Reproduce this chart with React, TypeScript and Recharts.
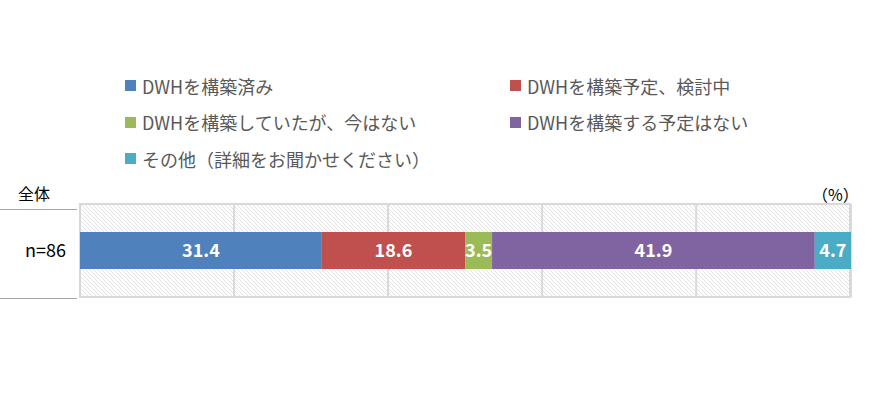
import React from 'react';
import { BarChart, Bar, XAxis, YAxis, CartesianGrid, ReferenceArea, LabelList, Legend } from 'recharts';

const categories = ['n=86'];
const seriesNames = [
  'DWHを構築済み',
  'DWHを構築予定、検討中',
  'DWHを構築していたが、今はない',
  'DWHを構築する予定はない',
  'その他（詳細をお聞かせください）',
];
const builtValues = [31.4];
const plannedValues = [18.6];
const abandonedValues = [3.5];
const noPlanValues = [41.9];
const otherValues = [4.7];
const xTicks = [0, 20, 40, 60, 80, 100];
const colors = ['#4F81BD', '#C0504D', '#9BBB59', '#8064A2', '#4BACC6'];
const keys = ['s0', 's1', 's2', 's3', 's4'];
const seriesValues = [builtValues, plannedValues, abandonedValues, noPlanValues, otherValues];

const data = categories.map((c, i) => {
  const row: any = { name: c };
  keys.forEach((k, j) => (row[k] = seriesValues[j][i]));
  return row;
});

const FONT = '"Noto Sans CJK JP", "Noto Sans", sans-serif';

const LegendContent = (props: any) => {
  const payload = [...(props.payload || [])].sort(
    (a: any, b: any) => keys.indexOf(a.dataKey) - keys.indexOf(b.dataKey)
  );
  return (
    <div style={{ position: 'relative', width: 876, height: 0 }}>
      {payload.map((p: any, i: number) => {
        const col = i % 2;
        const row = Math.floor(i / 2);
        const left = col === 0 ? 125 : 510;
        const cy = 85.5 + row * 36.6;
        return (
          <div
            key={i}
            style={{
              position: 'absolute',
              left,
              top: cy - 13,
              height: 26,
              display: 'flex',
              alignItems: 'center',
              whiteSpace: 'nowrap',
              fontFamily: FONT,
              fontSize: 18,
              color: '#595959',
            }}
          >
            <span style={{ display: 'inline-block', width: 11, height: 11, background: p.color, marginRight: 6 }} />
            <span>{p.value}</span>
          </div>
        );
      })}
    </div>
  );
};

export default function App() {
  return (
    <div style={{ position: 'absolute', left: 0, top: 0, width: 876, height: 404, background: '#fff', fontFamily: FONT }}>
      <BarChart
        width={876}
        height={404}
        data={data}
        layout="vertical"
        margin={{ top: 204, right: 25, bottom: 107, left: 0 }}
        barCategoryGap="30%"
      >
        <defs>
          <pattern id="hatch" patternUnits="userSpaceOnUse" width="4" height="4">
            <path d="M0,0 L4,4 M-1,3 L1,5 M3,-1 L5,1" stroke="#dcdcdc" strokeWidth="0.8" />
          </pattern>
        </defs>
        <ReferenceArea
          x1={0}
          x2={100}
          fill="url(#hatch)"
          fillOpacity={1}
          stroke="#d9d9d9"
          strokeWidth={2}
          ifOverflow="extendDomain"
        />
        <CartesianGrid horizontal={false} vertical stroke="#d9d9d9" strokeWidth={2} />
        <XAxis type="number" domain={[0, 100]} ticks={xTicks} hide />
        <YAxis
          type="category"
          dataKey="name"
          width={80}
          axisLine={false}
          tickLine={false}
          tickSize={0}
          tickMargin={14}
          tick={{ fill: '#000', fontSize: 18, fontFamily: FONT }}
        />
        <Legend
          verticalAlign="top"
          align="left"
          content={<LegendContent />}
          wrapperStyle={{ position: 'absolute', top: 0, left: 0, width: 876 }}
        />
        {keys.map((k, j) => (
          <Bar key={k} dataKey={k} name={seriesNames[j]} stackId="a" fill={colors[j]} isAnimationActive={false}>
            <LabelList
              dataKey={k}
              position="center"
              fill="#fff"
              fontSize={18}
              fontWeight="bold"
              fontFamily={FONT}
              formatter={(v: any) => Number(v).toFixed(1)}
            />
          </Bar>
        ))}
      </BarChart>
      <div style={{ position: 'absolute', left: 18, top: 183, fontSize: 16, color: '#000', fontFamily: FONT, lineHeight: '20px' }}>全体</div>
      <div style={{ position: 'absolute', left: 0, top: 209, width: 77, height: 1, background: '#a6a6a6' }} />
      <div style={{ position: 'absolute', left: 0, top: 298, width: 77, height: 1, background: '#a6a6a6' }} />
      <div style={{ position: 'absolute', left: 812, top: 184, fontSize: 16, color: '#000', fontFamily: FONT, lineHeight: '20px' }}>（%）</div>
    </div>
  );
}
